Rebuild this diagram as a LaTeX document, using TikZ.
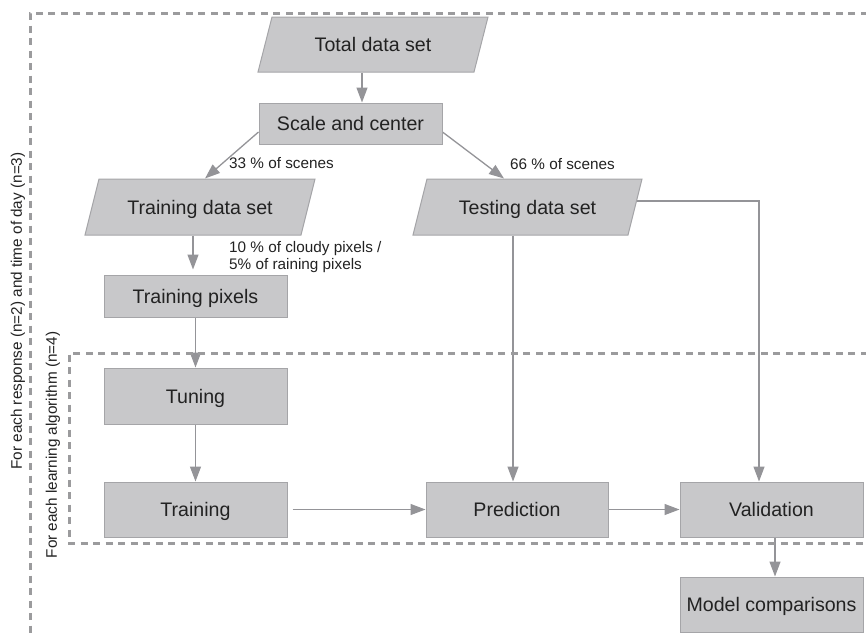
\documentclass[tikz,border=0pt]{standalone}
\usepackage{fontspec}
\setmainfont{Liberation Sans}
\usetikzlibrary{shapes.geometric,arrows.meta,backgrounds}
\definecolor{boxfill}{RGB}{200,200,202}
\definecolor{boxline}{RGB}{165,165,168}
\definecolor{flowline}{RGB}{148,148,152}
\definecolor{loopdash}{RGB}{155,155,157}
\definecolor{textdark}{RGB}{34,34,34}

\begin{document}
\begin{tikzpicture}[x=1pt,y=-1pt,
	box/.style={rectangle,draw=boxline,fill=boxfill,line width=1pt,minimum width=183pt,minimum height=55pt,inner sep=0pt,text height=14pt,text depth=0pt,text=textdark,font=\fontsize{19.6}{23}\selectfont},
	datapar/.style={trapezium,trapezium left angle=45,trapezium right angle=135,trapezium stretches body,draw=boxline,fill=boxfill,line width=1pt,minimum width=230pt,minimum height=55pt,inner sep=0pt,text height=14pt,text depth=0pt,text=textdark,font=\fontsize{19.6}{23}\selectfont},
	flow/.style={draw=flowline,line width=1.3pt,-{Triangle[length=15pt,width=11pt]}},
	pctlabel/.style={text=textdark,font=\fontsize{15.3}{17}\selectfont,inner sep=0pt},
	repeatbox/.style={draw=loopdash,line width=3pt,dash pattern=on 7pt off 5.5pt}]
			\clip (0,0) rectangle (866,635);

			% loops
			\draw[repeatbox] (880,13) -- (30,13) -- (30,650);
			\draw[repeatbox] (880,353) -- (69,353) -- (69,543) -- (880,543);
			\node[pctlabel,rotate=90] (lblouter) at (18,311) {For each response (n=2) and time of day (n=3)};
			\node[pctlabel,rotate=90] (lblinner) at (53,445) {For each learning algorithm (n=4)};

			% steps
			\node[datapar] (total) at (373,44.5) {Total data set};
			\node[box,minimum height=41pt] (scale) at (350.5,123.5) {Scale and center};
			\node[datapar,minimum height=56pt] (trainset) at (200,207) {Training data set};
			\node[datapar,minimum height=56pt,minimum width=229pt] (testset) at (527.5,207) {Testing data set};
			\node[box,minimum height=42pt] (trainpix) at (195.5,296) {Training pixels};
			\node[box,minimum height=56pt] (tuning) at (195.5,396) {Tuning};
			\node[box] (training) at (195.5,509.5) {Training};
			\node[box,minimum width=182pt] (predict) at (517,509.5) {Prediction};
			\node[box] (valid) at (771.5,509.5) {Validation};
			\node[box] (compare) at (771.5,604.5) {Model comparisons};

			\node[pctlabel,anchor=base west] (lbltrain) at (229,168) {33 \% of scenes};
			\node[pctlabel,anchor=base west] (lbltest) at (510,169) {66 \% of scenes};
			\node[pctlabel,anchor=base west,align=left] (lblpix) at (229,269) {10 \% of cloudy pixels /\\5\% of raining pixels};

			% arrows
			\coordinate (totaldown) at ([xshift=-11pt]total.center);
			\coordinate (trainin) at ([xshift=5pt]trainset.center);
			\coordinate (testin) at ([xshift=-23.5pt]testset.center);
			\coordinate (trainsetdown) at ([xshift=-7pt]trainset.center);
			\coordinate (testdown) at ([xshift=-14.5pt]testset.center);
			\begin{scope}[on background layer]
				\draw[flow] (totaldown |- total.south) -- (totaldown |- scale.north);
				\draw[flow] ([yshift=-8.5pt]scale.west) -- (trainin |- trainset.north);
				\draw[flow] ([yshift=-8.5pt]scale.east) -- (testin |- testset.north);
				\draw[flow,shorten >=5pt] (trainsetdown |- trainset.south) -- (trainsetdown |- trainpix.north);
				\draw[flow] (trainpix.south) -- (tuning.north);
				\draw[flow] (tuning.south) -- (training.north);
				\draw[flow,shorten <=5pt] (training.east) -- (predict.west);
				\draw[flow] (predict.east) -- (valid.west);
				\draw[flow] ([xshift=3.5pt]valid.south) -- ([xshift=3.5pt]compare.north);
				\draw[flow] (testdown |- testset.south) -- (testdown |- predict.north);
				\draw[flow] ([yshift=6pt]testset.center) -| ([xshift=-12.5pt]valid.north);
			\end{scope}
		\end{tikzpicture}
\end{document}
